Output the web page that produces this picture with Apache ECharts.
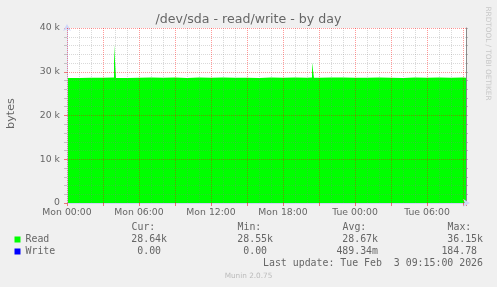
<!DOCTYPE html>
<html>
<head>
<meta charset="utf-8">
<script src="https://cdn.jsdelivr.net/npm/echarts@6/dist/echarts.min.js"></script>
<style>
html,body{margin:0;padding:0;background:#F0F0F0;}
#c{width:497px;height:287px;}
</style>
</head>
<body>
<div id="c"></div>
<script>
// ---- data ----
const titleText = '/dev/sda - read/write - by day';
const xTickLabels = ['Mon 00:00', 'Mon 06:00', 'Mon 12:00', 'Mon 18:00', 'Tue 00:00', 'Tue 06:00'];
const xMajorHours = [0, 3, 6, 9, 12, 15, 18, 21, 24, 27, 30, 33];
const yMajorValues = [10000, 20000, 30000, 40000];
// hours since Mon 00:00
const readHours = [0, 1, 2, 3, 3.917, 4.083, 5, 6, 7, 8, 9, 10, 11, 12, 13, 14, 15, 16, 17, 18, 19, 20, 20.417, 20.583, 21, 22, 23, 24, 25, 26, 27, 28, 29, 30, 31, 32, 33, 33.25];
const readValues = [28600, 28650, 28620, 28680, 36150, 28600, 28640, 28700, 28620, 28660, 28600, 28680, 28640, 28700, 28620, 28650, 28550, 28690, 28640, 28660, 28610, 28680, 32100, 28620, 28660, 28700, 28640, 28620, 28680, 28650, 28600, 28690, 28640, 28660, 28620, 28680, 28640, 28640];
const writeHours = [0, 3.917, 4.0, 33.25];
const writeValues = [0, 184.78, 0, 0];
const seriesNames = ['Read', 'Write'];
const statHeaders = ['Cur:', 'Min:', 'Avg:', 'Max:'];
const readStats = ['28.64k', '28.55k', '28.67k', '36.15k'];
const writeStats = ['0.00 ', '0.00 ', '489.34m', '184.78 '];
const lastUpdate = 'Last update: Tue Feb  3 09:15:00 2026';
const footer = 'Munin 2.0.75';
const watermark = 'RRDTOOL / TOBI OETIKER';

const pair = (xs, ys) => xs.map((x, i) => [x, ys[i]]);

const FONT = 'DejaVu Sans';
const MONO = 'DejaVu Sans Mono';
const TXT = '#666666';
const AXIS = '#CFD6F8';
const MAJ = 'rgba(255,0,0,0.4)';
const MIN = 'rgba(128,128,128,0.3)';

const colRight = [167, 273, 378, 483];
const monoFont = '9.9px "' + MONO + '"';
const graphics = [];
statHeaders.forEach((h, i) => {
  graphics.push({type: 'text', style: {x: colRight[i] - 35.5, y: 227.5, text: h, fill: TXT, font: monoFont, textAlign: 'left', textVerticalAlign: 'middle'}});
  graphics.push({type: 'text', style: {x: colRight[i], y: 239.5, text: readStats[i], fill: TXT, font: monoFont, textAlign: 'right', textVerticalAlign: 'middle'}});
  graphics.push({type: 'text', style: {x: colRight[i], y: 251.5, text: writeStats[i], fill: TXT, font: monoFont, textAlign: 'right', textVerticalAlign: 'middle'}});
});
graphics.push({type: 'text', style: {x: 483, y: 263.5, text: lastUpdate, fill: TXT, font: monoFont, textAlign: 'right', textVerticalAlign: 'middle'}});
graphics.push({type: 'text', style: {x: 248.5, y: 276.5, text: footer, fill: '#BBBBBB', font: '7.3px "' + FONT + '"', textAlign: 'center', textVerticalAlign: 'middle'}});
graphics.push({type: 'text', x: 487.7, y: 53.5, rotation: -Math.PI / 2, style: {x: 0, y: 0, text: watermark, fill: '#C8C8C8', font: '7.3px "' + FONT + '"', textAlign: 'center', textVerticalAlign: 'middle'}});

const majorGrid = xMajorHours.map(h => ({xAxis: h})).concat(yMajorValues.map(v => ({yAxis: v})));

const chart = echarts.init(document.getElementById('c'), null, {renderer: 'canvas'});
chart.setOption({
  backgroundColor: '#F0F0F0',
  animation: false,
  title: {
    text: titleText, left: 'center', top: 12, padding: 0,
    textStyle: {fontFamily: FONT, fontSize: 12.6, fontWeight: 'normal', color: TXT, lineHeight: 15}
  },
  grid: {left: 67, right: 31, top: 28, bottom: 84, show: true, backgroundColor: '#FFFFFF', borderWidth: 0, containLabel: false, outerBoundsMode: 'none'},
  legend: {
    orient: 'vertical', left: 14.5, top: 233.5, itemWidth: 6, itemHeight: 6, itemGap: 0, padding: 0,
    icon: 'rect', selectedMode: false,
    data: seriesNames,
    textStyle: {fontFamily: MONO, fontSize: 9.9, color: TXT, lineHeight: 12, padding: [0, 0, 0, 0]}
  },
  xAxis: {
    type: 'value', min: 0, max: 33.25, interval: 3, z: 3,
    axisLine: {show: true, lineStyle: {color: AXIS, width: 1}, symbol: ['none', 'arrow'], symbolSize: [6, 7], symbolOffset: [0, 4]},
    axisTick: {show: true, length: 3, lineStyle: {color: 'rgba(230,0,0,0.5)'}},
    minorTick: {show: true, splitNumber: 3, length: 0, lineStyle: {color: 'rgba(0,0,0,0)'}},
    minorSplitLine: {show: true, lineStyle: {color: MIN, type: [1, 1], width: 1}},
    splitLine: {show: false},
    axisLabel: {
      margin: 5, color: TXT, fontFamily: FONT, fontSize: 9.3,
      showMaxLabel: false,
      formatter: v => (Math.abs(v % 6) < 1e-6 && xTickLabels[v / 6]) ? xTickLabels[v / 6] : ''
    }
  },
  yAxis: [{
    type: 'value', min: 0, max: 40000, interval: 10000, z: 3,
    name: 'bytes', nameLocation: 'middle', nameGap: 50,
    nameTextStyle: {fontFamily: FONT, fontSize: 11.2, color: TXT, padding: [0, 0, 0, 4]},
    axisLine: {show: true, lineStyle: {color: AXIS, width: 1}, symbol: ['none', 'arrow'], symbolSize: [6, 7], symbolOffset: [0, 4]},
    axisTick: {show: true, length: 3, lineStyle: {color: 'rgba(230,0,0,0.5)'}},
    minorTick: {show: true, splitNumber: 5, length: 3, lineStyle: {color: 'rgba(128,128,128,0.4)'}},
    minorSplitLine: {show: true, lineStyle: {color: MIN, type: [1, 1], width: 1}},
    splitLine: {show: false},
    axisLabel: {margin: 7, color: TXT, fontFamily: FONT, fontSize: 9.3, formatter: v => v === 0 ? '0' : (v / 1000) + ' k'}
  }, {
    type: 'value', min: 0, max: 40000, interval: 10000, position: 'right', z: 3,
    axisLine: {show: true, lineStyle: {color: '#8A8A8A', width: 1}},
    axisTick: {show: true, length: 2, lineStyle: {color: 'rgba(128,128,128,0.5)'}},
    minorTick: {show: true, splitNumber: 5, length: 2, lineStyle: {color: 'rgba(128,128,128,0.5)'}},
    minorSplitLine: {show: false},
    splitLine: {show: false},
    axisLabel: {show: false}
  }],
  series: [{
    name: seriesNames[0], type: 'line', step: 'end', z: 1, symbol: 'none',
    data: pair(readHours, readValues),
    itemStyle: {color: '#00FF00'},
    lineStyle: {width: 0, color: '#00FF00'},
    areaStyle: {color: '#00FF00', opacity: 1}
  }, {
    name: seriesNames[1], type: 'line', step: 'end', z: 1, symbol: 'none',
    data: pair(writeHours, writeValues),
    itemStyle: {color: '#0000FF'},
    lineStyle: {width: 0, color: '#0000FF'},
    areaStyle: {color: '#0000FF', opacity: 1},
    markLine: {
      silent: true, symbol: ['none', 'none'], animation: false, precision: 4,
      label: {show: false},
      emphasis: {disabled: true},
      lineStyle: {color: MAJ, type: [1, 1], width: 1, opacity: 1},
      data: majorGrid
    }
  }],
  graphic: graphics
});
</script>
</body>
</html>
